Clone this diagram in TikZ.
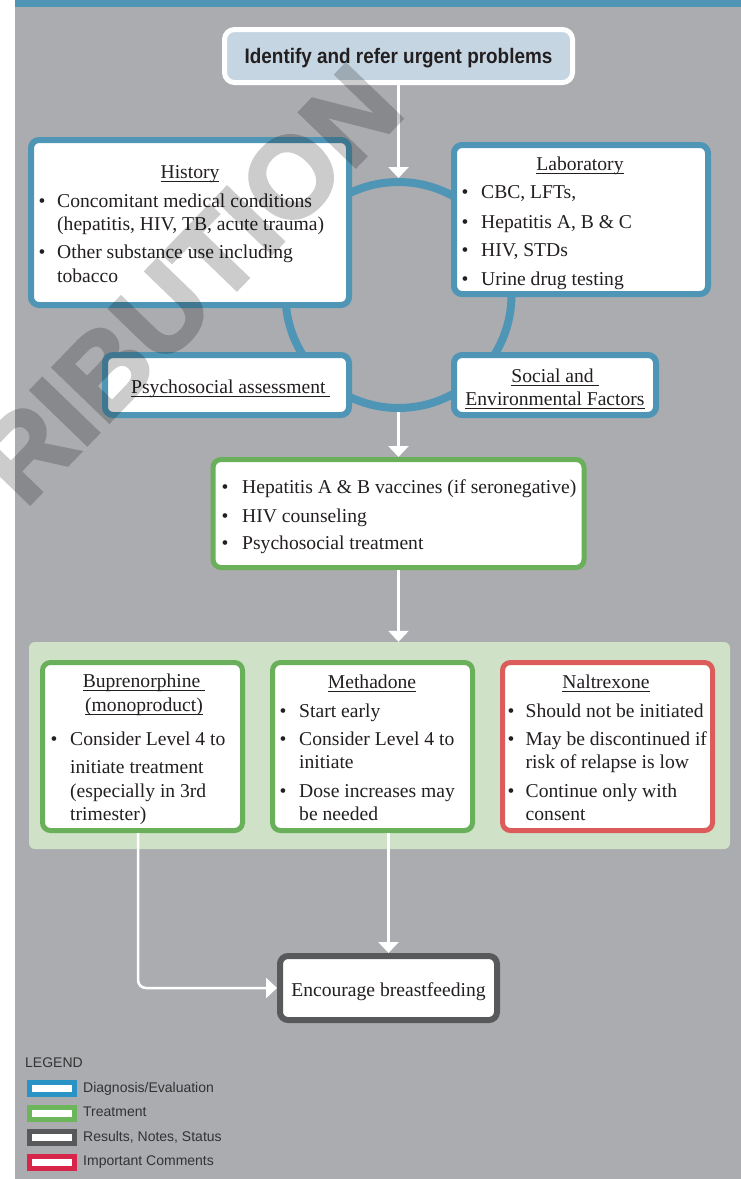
\documentclass[tikz,border=0pt]{standalone}
\usepackage{fontspec}
\setmainfont{Liberation Serif}
\newfontfamily\condfont[FakeStretch=0.9]{Liberation Sans}
\newfontfamily\legfont{Liberation Sans}
\newfontfamily\wmfont[FakeBold=2.5]{Liberation Sans}
\usetikzlibrary{arrows.meta}
\definecolor{bgray}{HTML}{ABACB0}
\definecolor{bblue}{HTML}{4F95B5}
\definecolor{topfill}{HTML}{C5D5E2}
\definecolor{bgreen}{HTML}{6AB05A}
\definecolor{panelgreen}{HTML}{CFE2C7}
\definecolor{bred}{HTML}{DC5C5C}
\definecolor{bdark}{HTML}{58595B}
\definecolor{txt}{HTML}{231F20}
\definecolor{lgblue}{HTML}{2A93C6}
\definecolor{lggreen}{HTML}{6DB55A}
\definecolor{lgred}{HTML}{D7264A}
\definecolor{lgtxt}{HTML}{333333}
\newcommand{\myul}[1]{\underline{\smash{#1}\rule[-1.8pt]{0pt}{0pt}}}
\begin{document}
\begin{tikzpicture}[x=1pt,y=-1pt,
  box/.style={rectangle, rounded corners=8pt, fill=white, inner sep=0pt},
  bluebox/.style={box, draw=bblue, line width=6pt},
  greenbox/.style={box, draw=bgreen, line width=5pt},
  redbox/.style={box, draw=bred, line width=5pt},
  darkbox/.style={box, draw=bdark, line width=6pt},
  bodyfont/.style={text=txt, font=\fontsize{19.6}{23}\selectfont},
  txtline/.style={bodyfont, anchor=base west, inner sep=0pt},
  ttl/.style={bodyfont, anchor=base, inner sep=0pt},
  dotnode/.style={bodyfont, anchor=base, inner sep=0pt},
  arr/.style={draw=white, line width=2.5pt, -{Triangle[width=20pt,length=11pt]}},
  swatch/.style={rectangle, line width=5pt, fill=white, minimum width=45pt, minimum height=12pt, inner sep=0pt},
  legtext/.style={anchor=base west, inner sep=0pt, text=lgtxt, font=\legfont\fontsize{14}{16}\selectfont}
]
\useasboundingbox (0,0) rectangle (741,1179);
\fill[white] (0,0) rectangle (741,1179);
\fill[bgray] (15,0) rectangle (741,1179);
\fill[bblue] (15,0) rectangle (741,7);

% ring
\node[circle, draw=bblue, line width=8pt, minimum size=226pt, inner sep=0pt] (ring) at (398.5,295) {};

% top box
\node[rectangle, rounded corners=10pt, fill=topfill, draw=white, line width=5pt, minimum width=348pt, minimum height=53pt, inner sep=0pt] (top) at (398.5,56) {};
\node[anchor=base, inner sep=0pt, text=txt, font=\condfont\bfseries\fontsize{21}{24}\selectfont] (toptxt) at (398.5,63) {Identify and refer urgent problems};

% assessment boxes
\node[bluebox, minimum width=318pt, minimum height=165pt] (hist) at (190,222.5) {};
\node[bluebox, minimum width=254pt, minimum height=149pt] (lab) at (581,219.5) {};
\node[bluebox, minimum width=244pt, minimum height=60pt] (psy) at (227,385) {};
\node[bluebox, minimum width=202pt, minimum height=60pt] (soc) at (555,385) {};

% history text
\node[ttl] (histt) at (190,178) {\myul{History}};
\node[dotnode] (hd1) at (42,207) {•};
\node[txtline] (h1) at (57,207) {Concomitant medical conditions};
\node[txtline] (h2) at (57,230) {(hepatitis, HIV, TB, acute trauma)};
\node[dotnode] (hd2) at (42,258) {•};
\node[txtline] (h3) at (57,258) {Other substance use including};
\node[txtline] (h4) at (57,282) {tobacco};

% laboratory text
\node[ttl] (labt) at (580,170) {\myul{Laboratory}};
\node[dotnode] (ld1) at (465,198) {•};
\node[txtline] (l1) at (481,198) {CBC, LFTs,};
\node[dotnode] (ld2) at (465,228) {•};
\node[txtline] (l2) at (481,228) {Hepatitis A, B \& C};
\node[dotnode] (ld3) at (465,256) {•};
\node[txtline] (l3) at (481,256) {HIV, STDs};
\node[dotnode] (ld4) at (465,285) {•};
\node[txtline] (l4) at (481,285) {Urine drug testing};

% psychosocial / social
\node[txtline] (psyt) at (131,393) {\myul{Psychosocial assessment\ }};
\node[ttl] (soct1) at (555,382) {\myul{Social and\ }};
\node[ttl] (soct2) at (555,405) {\myul{Environmental Factors}};

% treatment box
\node[greenbox, minimum width=371pt, minimum height=108pt] (g1) at (398.5,513.5) {};
\node[dotnode] (gd1) at (225,493) {•};
\node[txtline] (g1a) at (242,493) {Hepatitis A \& B vaccines (if seronegative)};
\node[dotnode] (gd2) at (225,522) {•};
\node[txtline] (g1b) at (242,522) {HIV counseling};
\node[dotnode] (gd3) at (225,549) {•};
\node[txtline] (g1c) at (242,549) {Psychosocial treatment};

% medication panel
\node[rectangle, rounded corners=6pt, fill=panelgreen, minimum width=701pt, minimum height=207pt, inner sep=0pt] (panel) at (379.5,745.5) {};
\node[greenbox, minimum width=200pt, minimum height=168pt] (bup) at (142.5,746.5) {};
\node[greenbox, minimum width=200pt, minimum height=168pt] (meth) at (372.5,746.5) {};
\node[redbox, minimum width=210pt, minimum height=168pt] (nal) at (607.5,746.5) {};

\node[ttl] (bupt1) at (144,687) {\myul{Buprenorphine\ }};
\node[ttl] (bupt2) at (144,711) {\myul{(monoproduct)}};
\node[dotnode] (bd1) at (54,745) {•};
\node[txtline] (b1) at (70,745) {Consider Level 4 to};
\node[txtline] (b2) at (70,773) {initiate treatment};
\node[txtline] (b3) at (70,797) {(especially in 3rd};
\node[txtline] (b4) at (70,820) {trimester)};

\node[ttl] (metht) at (372,688) {\myul{Methadone}};
\node[dotnode] (md1) at (283,717) {•};
\node[txtline] (m1) at (299,717) {Start early};
\node[dotnode] (md2) at (283,745) {•};
\node[txtline] (m2) at (299,745) {Consider Level 4 to};
\node[txtline] (m3) at (299,768) {initiate};
\node[dotnode] (md3) at (283,797) {•};
\node[txtline] (m4) at (299,797) {Dose increases may};
\node[txtline] (m5) at (299,820) {be needed};

\node[ttl] (nalt) at (606,688) {\myul{Naltrexone}};
\node[dotnode] (nd1) at (511,717) {•};
\node[txtline] (n1) at (525.5,717) {Should not be initiated};
\node[dotnode] (nd2) at (511,745) {•};
\node[txtline] (n2) at (525.5,745) {May be discontinued if};
\node[txtline] (n3) at (525.5,768) {risk of relapse is low};
\node[dotnode] (nd3) at (511,797) {•};
\node[txtline] (n4) at (525.5,797) {Continue only with};
\node[txtline] (n5) at (525.5,820) {consent};

% result box
\node[darkbox, minimum width=217pt, minimum height=64pt] (enc) at (388.5,988) {};
\node[ttl] (enct) at (388.5,996) {Encourage breastfeeding};

% connectors
\draw[arr] (top.south) -- (ring.north);
\draw[arr] (ring.south) -- (ring.south |- g1.north);
\draw[arr] (g1.south) -- (g1.south |- panel.north);
\draw[arr] (enc.north |- meth.south) -- (enc.north);
\coordinate (bupout) at (138,833);
\draw[arr, rounded corners=8pt] (bupout) |- (enc.west);

% legend
\node[legtext] (lgt) at (25,1067) {LEGEND};
\node[swatch, draw=lgblue] (s1) at (52,1088.5) {};
\node[swatch, draw=lggreen] (s2) at (52,1113) {};
\node[swatch, draw=bdark] (s3) at (52,1137) {};
\node[swatch, draw=lgred] (s4) at (52,1162) {};
\node[legtext] (s1t) at (83,1092) {Diagnosis/Evaluation};
\node[legtext] (s2t) at (83,1116) {Treatment};
\node[legtext] (s3t) at (83,1141) {Results, Notes, Status};
\node[legtext] (s4t) at (83,1165) {Important Comments};

% watermark
\begin{scope}
\clip (0,0) rectangle (741,1179);
\begin{scope}[transparency group, opacity=0.2]
\node[rotate=46, text=black, inner sep=0pt, font=\wmfont\bfseries\fontsize{114}{114}\selectfont] (wm) at (188,284) {RIBUTION};
\end{scope}
\end{scope}
\end{tikzpicture}
\end{document}
